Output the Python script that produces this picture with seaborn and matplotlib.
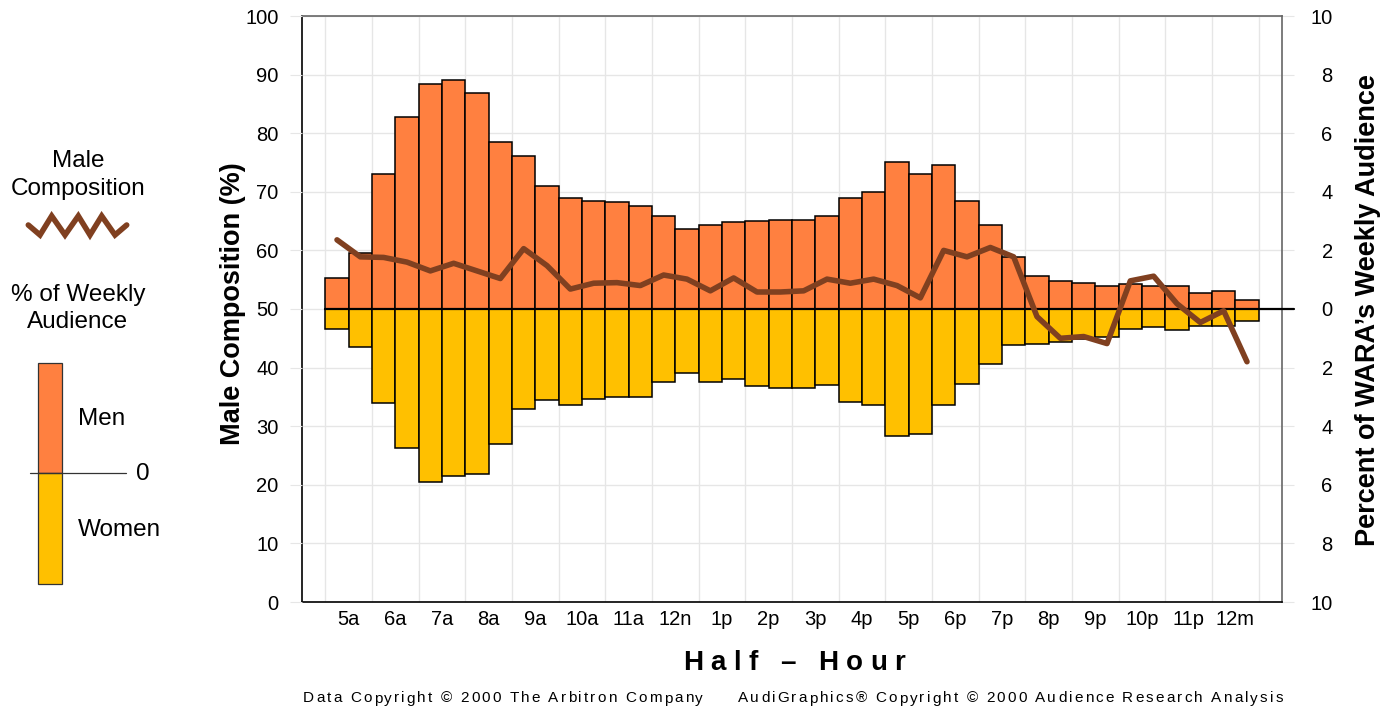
import numpy as np
import pandas as pd
import matplotlib
matplotlib.use("Agg")
import matplotlib.pyplot as plt
import seaborn as sns
from matplotlib.font_manager import FontProperties, findfont
from matplotlib.ft2font import FT2Font
from matplotlib.patches import Rectangle
from matplotlib.lines import Line2D

# ----------------------------- data -----------------------------
HOUR_LABELS = ["5a", "6a", "7a", "8a", "9a", "10a", "11a", "12n", "1p", "2p",
               "3p", "4p", "5p", "6p", "7p", "8p", "9p", "10p", "11p", "12m"]

# % of weekly audience in each half-hour, 5:00a ... 12:30m
MEN_PCT = [1.06, 1.90, 4.60, 6.56, 7.68, 7.82, 7.36, 5.70, 5.22, 4.20,
           3.78, 3.68, 3.64, 3.52, 3.16, 2.72, 2.86, 2.96, 3.00, 3.04,
           3.04, 3.18, 3.78, 3.98, 5.02, 4.60, 4.90, 3.70, 2.88, 1.78,
           1.14, 0.96, 0.90, 0.78, 0.86, 0.80, 0.78, 0.54, 0.60, 0.32]
WOMEN_PCT = [0.68, 1.30, 3.20, 4.74, 5.90, 5.70, 5.64, 4.62, 3.42, 3.10,
             3.28, 3.06, 3.00, 3.00, 2.48, 2.20, 2.50, 2.38, 2.64, 2.68,
             2.68, 2.58, 3.16, 3.26, 4.32, 4.26, 3.26, 2.56, 1.88, 1.22,
             1.20, 1.14, 1.04, 0.96, 0.68, 0.62, 0.72, 0.58, 0.58, 0.42]
# male composition (%) of the audience in each half-hour
MALE_COMP = [61.8, 58.9, 58.8, 58.0, 56.5, 57.8, 56.5, 55.2, 60.3, 57.4,
             53.4, 54.4, 54.5, 54.0, 55.8, 55.1, 53.1, 55.3, 52.9, 52.9,
             53.1, 55.1, 54.4, 55.1, 54.0, 51.9, 60.0, 58.9, 60.5, 58.9,
             48.7, 45.0, 45.3, 44.1, 54.8, 55.6, 50.9, 47.7, 49.7, 41.0]

LEFT_TICKS = [0, 10, 20, 30, 40, 50, 60, 70, 80, 90, 100]
RIGHT_TICKS = [-10, -8, -6, -4, -2, 0, 2, 4, 6, 8, 10]

MEN_COLOR = "#FF8040"
WOMEN_COLOR = "#FFC000"
LINE_COLOR = "#804020"
GRID_COLOR = "#E6E6E6"

W, H = 1395, 708


def fx(x):
    return x / W


def fy(y):
    return 1 - y / H


def spaced_text(fig, x0, x1, y, s, size, weight="normal"):
    """Letter-spaced text running from pixel x0 to x1 on baseline y."""
    prop = FontProperties(family="Liberation Sans", size=size, weight=weight)
    font = FT2Font(findfont(prop))
    font.set_size(size, fig.dpi)
    adv = [font.load_char(ord(c)).linearHoriAdvance / 65536 for c in s]
    track = (x1 - x0 - sum(adv)) / (len(s) - 1)
    x = x0
    for c, a in zip(s, adv):
        fig.text(fx(x), fy(y), c, fontproperties=prop, ha="left", va="baseline",
                 color="black")
        x += a + track


def main():
    sns.set_style("white")
    plt.rcParams["font.family"] = ["Liberation Sans", "DejaVu Sans"]
    plt.rcParams["text.color"] = "black"

    df = pd.DataFrame({"slot": np.arange(len(MEN_PCT)), "men": MEN_PCT,
                       "women": WOMEN_PCT, "comp": MALE_COMP})
    df["women_down"] = -df["women"]

    fig = plt.figure(figsize=(W / 100, H / 100), dpi=100)
    ax = fig.add_axes([fx(302), fy(602), 980 / W, 586 / H])

    bar_kw = dict(native_scale=True, width=1, saturation=1, errorbar=None,
                  edgecolor="black", linewidth=1.1, ax=ax)
    sns.barplot(data=df, x="slot", y="men", color=MEN_COLOR, **bar_kw)
    sns.barplot(data=df, x="slot", y="women_down", color=WOMEN_COLOR, **bar_kw)
    ax.plot([-0.5, 41.0], [0, 0], color="black", lw=1.6, clip_on=False, zorder=3)

    ax2 = ax.twinx()
    sns.lineplot(data=df, x="slot", y="comp", ax=ax2, color=LINE_COLOR,
                 linewidth=4.0, solid_capstyle="round", solid_joinstyle="round")

    ax.set_xlim(-1.5, 40.5)
    ax.set_ylim(-10, 10)
    ax2.set_ylim(0, 100)
    for a in (ax, ax2):
        a.set_xlabel("")
        a.set_ylabel("")

    # x axis: hour labels centred, grid at hour boundaries
    ax.set_xticks(np.arange(0.5, 40, 2))
    ax.set_xticklabels(HOUR_LABELS, fontsize=14.5)
    ax.set_xticks(np.arange(-0.5, 40, 2), minor=True)
    ax.tick_params(axis="x", which="major", length=3, color="#D0D0D0", pad=3,
                   labelcolor="black")
    ax.tick_params(axis="x", which="minor", length=15, color=GRID_COLOR, width=1)

    # right axis: % of weekly audience (bars)
    ax.yaxis.tick_right()
    ax.set_yticks(RIGHT_TICKS)
    ax.set_yticklabels([str(abs(t)) for t in RIGHT_TICKS])
    ax.tick_params(axis="y", length=8.5, color=GRID_COLOR, pad=28, labelsize=14.5,
                   labelcolor="black")
    for lab in ax.get_yticklabels():
        lab.set_ha("right")

    # left axis: male composition (line)
    ax2.yaxis.tick_left()
    ax2.set_yticks(LEFT_TICKS)
    ax2.tick_params(axis="y", length=8.5, color=GRID_COLOR, pad=8.5, labelsize=14.5,
                    labelcolor="black")

    ax.grid(True, axis="y", which="major", color=GRID_COLOR, lw=1)
    ax.grid(True, axis="x", which="minor", color=GRID_COLOR, lw=1)
    ax.set_axisbelow(True)

    for side in ("left", "bottom"):
        ax.spines[side].set_color("black")
        ax.spines[side].set_linewidth(1.2)
    for side in ("top", "right"):
        ax.spines[side].set_color("#666666")
        ax.spines[side].set_linewidth(1.2)
    for sp in ax2.spines.values():
        sp.set_visible(False)

    # axis titles
    fig.text(fx(233), fy(304), "Male Composition (%)", rotation=90,
             ha="center", va="center", fontsize=19.5, fontweight="bold")
    fig.text(fx(1368), fy(310), "Percent of WARA\u2019s Weekly Audience", rotation=90,
             ha="center", va="center", fontsize=19.5, fontweight="bold")
    spaced_text(fig, 683, 905, 670, "Half \u2013 Hour", 20, weight="bold")

    # footer
    spaced_text(fig, 303, 703, 702.5, "Data Copyright \u00a9 2000 The Arbitron Company", 11)
    spaced_text(fig, 738, 1283, 702.5,
                "AudiGraphics\u00ae Copyright \u00a9 2000 Audience Research Analysis", 11)

    # left-hand key
    fig.text(fx(78), fy(161), "Male", ha="center", va="center", fontsize=17.5)
    fig.text(fx(78), fy(189), "Composition", ha="center", va="center", fontsize=17.5)
    zig_x = [28.3, 40, 51.7, 65, 78.3, 90, 101.7, 115, 126.7]
    zig_y = [225, 235, 216, 235, 216, 235, 216, 235, 225]
    fig.add_artist(Line2D([fx(v) for v in zig_x], [fy(v) for v in zig_y],
                          transform=fig.transFigure, color=LINE_COLOR, lw=4.0,
                          solid_capstyle="round", solid_joinstyle="miter"))
    fig.text(fx(78), fy(295), "% of Weekly", ha="center", va="center", fontsize=17.5)
    fig.text(fx(78), fy(322), "Audience", ha="center", va="center", fontsize=17.5)
    fig.add_artist(Rectangle((fx(37.7), fy(473.3)), 24.3 / W, 110 / H,
                             transform=fig.transFigure, facecolor=MEN_COLOR,
                             edgecolor="#333333", lw=0.9))
    fig.add_artist(Rectangle((fx(37.7), fy(584.3)), 24.3 / W, 111 / H,
                             transform=fig.transFigure, facecolor=WOMEN_COLOR,
                             edgecolor="#333333", lw=0.9))
    fig.add_artist(Line2D([fx(30), fx(126)], [fy(473.3), fy(473.3)],
                          transform=fig.transFigure, color="#333333", lw=0.9))
    fig.text(fx(78), fy(419), "Men", ha="left", va="center", fontsize=17.5)
    fig.text(fx(78), fy(530), "Women", ha="left", va="center", fontsize=17.5)
    fig.text(fx(136), fy(474), "0", ha="left", va="center", fontsize=17.5)

    fig.savefig("out.png", dpi=100)
    plt.close(fig)


if __name__ == "__main__":
    main()
